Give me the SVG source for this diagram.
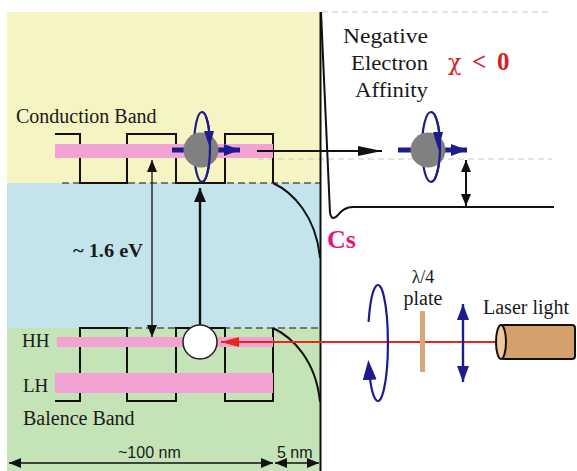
<svg xmlns="http://www.w3.org/2000/svg" width="577" height="471" viewBox="0 0 577 471">
  <style>
    .serif { font-family: "Liberation Serif", "Times New Roman", serif; fill: #1a1a1a; }
    .sans { font-family: "Liberation Sans", Arial, sans-serif; fill: #1a1a1a; }
    .line { fill: none; stroke: #111; stroke-width: 2; }
    .thin { fill: none; stroke: #111; stroke-width: 1.3; }
    .dash-dark { fill: none; stroke: #555; stroke-width: 1.5; stroke-dasharray: 7 4; }
    .dash-light { fill: none; stroke: #c8c8c8; stroke-width: 1.2; stroke-dasharray: 6 4; }
    .band { fill: #f2a3d4; }
    .navy { fill: none; stroke: #1c1c8c; stroke-width: 2.2; }
    .navy-fill { fill: #1c1c8c; }
    .electron { fill: #808080; }
  </style>
  <defs>
    <marker id="headSm" markerUnits="userSpaceOnUse" markerWidth="12" markerHeight="10" refX="12" refY="5" orient="auto-start-reverse">
      <path d="M0,0 L12,5 L0,10 z" fill="#111"/>
    </marker>
    <marker id="headMd" markerUnits="userSpaceOnUse" markerWidth="14" markerHeight="12" refX="14" refY="6" orient="auto-start-reverse">
      <path d="M0,0 L14,6 L0,12 z" fill="#111"/>
    </marker>
    <marker id="headLong" markerUnits="userSpaceOnUse" markerWidth="24" markerHeight="10" refX="24" refY="5" orient="auto-start-reverse">
      <path d="M0,0 L24,5 L0,10 z" fill="#111"/>
    </marker>
    <marker id="headNavy" markerUnits="userSpaceOnUse" markerWidth="16" markerHeight="12" refX="16" refY="6" orient="auto-start-reverse">
      <path d="M0,0 L16,6 L0,12 z" fill="#1c1c8c"/>
    </marker>
    <marker id="headNavyLg" markerUnits="userSpaceOnUse" markerWidth="20" markerHeight="14" refX="16" refY="7" orient="auto">
      <path d="M0,0 L20,7 L0,14 z" fill="#1c1c8c"/>
    </marker>
    <marker id="headRed" markerUnits="userSpaceOnUse" markerWidth="18" markerHeight="10" refX="18" refY="5" orient="auto-start-reverse">
      <path d="M0,0 L18,5 L0,10 z" fill="#e8261c"/>
    </marker>
  </defs>

  <!-- energy regions of the semiconductor -->
  <g id="regions">
    <rect x="7" y="12" width="313" height="171" fill="#f6f4c2"/>
    <rect x="7" y="183" width="313" height="145" fill="#c2e4ea"/>
    <rect x="7" y="328" width="313" height="143" fill="#c4e3b6"/>
  </g>

  <!-- reference levels -->
  <g id="levels">
    <line class="dash-light" x1="322" y1="12" x2="552" y2="12"/>
    <line class="dash-light" x1="258" y1="159" x2="552" y2="159"/>
    <line class="dash-dark" x1="62" y1="183" x2="320" y2="183"/>
    <line class="dash-dark" x1="80" y1="328" x2="320" y2="328"/>
  </g>

  <!-- superlattice band edges, band bending and surface -->
  <g id="band-structure">
    <path class="line" d="M55,134 H80 V183 H127 V134 H176 V183 H225 V134 H273 V183"/>
    <path class="line" d="M273,183 C292,192 316,215 320,258"/>
    <path class="line" d="M55,401 H80 V328 H127 V401 H176 V328 H225 V401 H273 V328"/>
    <path class="line" d="M273,328 C292,337 316,360 320,402"/>
    <line class="line" x1="320.5" y1="12" x2="320.5" y2="471"/>
    <path class="line" d="M321,12 L330,213 Q332,222 338,215 Q344,207 353,207 L554,207"/>
  </g>

  <!-- subbands -->
  <g id="subbands">
    <rect class="band" x="55" y="144" width="218" height="14"/>
    <rect class="band" x="57" y="337" width="216" height="10"/>
    <rect class="band" x="55" y="373" width="218" height="20"/>
  </g>

  <!-- connectors -->
  <g id="connectors">
    <line class="thin" x1="152" y1="160" x2="152" y2="337" marker-start="url(#headSm)" marker-end="url(#headSm)"/>
    <line x1="200" y1="325" x2="200" y2="188" stroke="#111" stroke-width="2.4" marker-end="url(#headMd)"/>
    <line x1="257" y1="151" x2="382" y2="151" stroke="#111" stroke-width="2" marker-end="url(#headLong)"/>
    <line x1="466" y1="160" x2="466" y2="206" stroke="#111" stroke-width="2" marker-start="url(#headSm)" marker-end="url(#headSm)"/>
    <line x1="500" y1="342" x2="221" y2="342" stroke="#e8261c" stroke-width="2" marker-end="url(#headRed)"/>
    <line class="thin" x1="9" y1="463" x2="273" y2="463" marker-start="url(#headSm)" marker-end="url(#headSm)"/>
    <line class="thin" x1="275" y1="463" x2="319" y2="463" marker-start="url(#headSm)" marker-end="url(#headSm)"/>
  </g>

  <!-- spin-polarized electron in the conduction band -->
  <g id="electron-cb">
    <line x1="172" y1="150" x2="240" y2="150" stroke="#1c1c8c" stroke-width="5" marker-end="url(#headNavy)"/>
    <ellipse class="navy" cx="202" cy="147" rx="8" ry="35"/>
    <circle class="electron" cx="201" cy="150" r="17.5"/>
    <path class="navy" d="M202,112 A8,35 0 0 1 202,182"/>
    <polygon class="navy-fill" points="204,131 214,131 209.5,147"/>
  </g>

  <!-- emitted electron in vacuum -->
  <g id="electron-vac">
    <line x1="398" y1="150" x2="467" y2="150" stroke="#1c1c8c" stroke-width="5" marker-end="url(#headNavy)"/>
    <ellipse class="navy" cx="431" cy="147" rx="9" ry="35"/>
    <circle class="electron" cx="428" cy="150" r="17.5"/>
    <path class="navy" d="M431,112 A9,35 0 0 1 431,182"/>
    <polygon class="navy-fill" points="433,132 443,132 438.5,150"/>
  </g>

  <!-- hole in the heavy-hole band -->
  <g id="hole">
    <circle cx="200" cy="342" r="17" fill="#fff" stroke="#222" stroke-width="1.5"/>
  </g>

  <!-- circularly polarized light -->
  <g id="circular-pol">
    <path class="navy" d="M368.6,322 A10,58 0 1 1 368.6,364" marker-end="url(#headNavyLg)"/>
  </g>

  <!-- quarter-wave plate -->
  <g id="plate">
    <rect x="420" y="311" width="5" height="61" fill="#d9a877"/>
  </g>

  <!-- linearly polarized light -->
  <g id="linear-pol">
    <line x1="463" y1="304" x2="463" y2="382" stroke="#1c1c8c" stroke-width="2.4" marker-start="url(#headNavy)" marker-end="url(#headNavy)"/>
  </g>

  <!-- laser -->
  <g id="laser">
    <rect x="501" y="325" width="74" height="34" rx="3" fill="#d4a06c" stroke="#111" stroke-width="2"/>
    <ellipse cx="501" cy="342" rx="5" ry="17" fill="#f0c89c" stroke="#111" stroke-width="2"/>
  </g>

  <!-- labels -->
  <g id="labels">
    <text class="serif" x="16" y="123" font-size="20">Conduction Band</text>
    <text class="serif" x="23" y="425" font-size="20">Balence Band</text>
    <text class="serif" x="22" y="347" font-size="19">HH</text>
    <text class="serif" x="23" y="392" font-size="19">LH</text>
    <text class="serif" x="73" y="257" font-size="19" font-weight="bold" textLength="70" lengthAdjust="spacingAndGlyphs">~ 1.6 eV</text>
    <text class="sans" x="118" y="458" font-size="16">~100 nm</text>
    <text class="sans" x="277" y="458" font-size="16">5 nm</text>
    <text class="serif" x="343" y="43" font-size="20" textLength="85" lengthAdjust="spacingAndGlyphs">Negative</text>
    <text class="serif" x="351" y="70" font-size="20" textLength="77" lengthAdjust="spacingAndGlyphs">Electron</text>
    <text class="serif" x="355" y="97" font-size="20" textLength="73" lengthAdjust="spacingAndGlyphs">Affinity</text>
    <text class="serif" y="70" font-size="25" style="fill:#d9201e"><tspan x="448" font-family="'DejaVu Serif', serif" font-size="22">χ</tspan><tspan x="472" font-weight="bold">&lt;</tspan><tspan x="497" font-weight="bold">0</tspan></text>
    <text class="serif" x="327" y="248" font-size="26" font-weight="bold" style="fill:#e0197d">Cs</text>
    <text class="serif" x="423" y="283" font-size="18" text-anchor="middle">λ/4</text>
    <text class="serif" x="423" y="305" font-size="20" text-anchor="middle">plate</text>
    <text class="serif" x="483" y="314" font-size="20">Laser light</text>
  </g>
</svg>
